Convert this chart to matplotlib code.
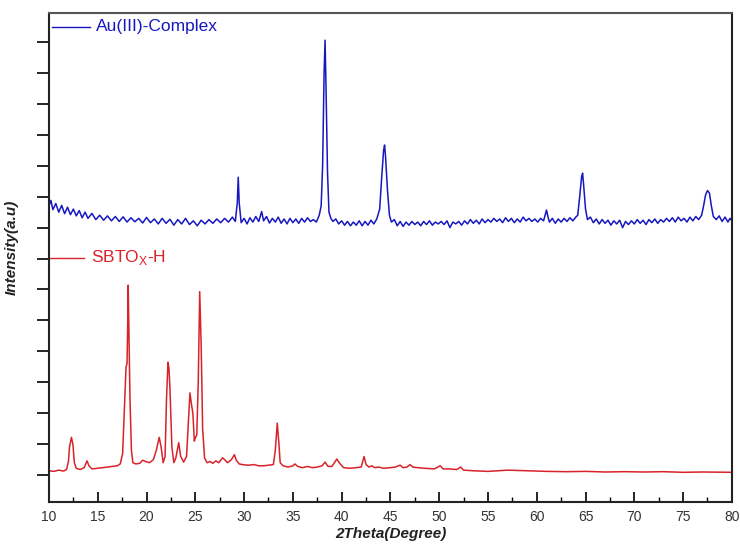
import matplotlib
matplotlib.use("Agg")
import matplotlib.pyplot as plt
from matplotlib.ticker import MultipleLocator, NullFormatter

# 2Theta (degree) and intensity (a.u.)
au_theta = [
    10.0, 10.2, 10.4, 10.7, 11.0, 11.3, 11.6, 11.9, 12.2, 12.5, 12.8, 13.1, 13.4, 13.7,
    14.0, 14.4, 14.8, 15.2, 15.6, 16.0, 16.4, 16.8, 17.2, 17.6, 18.0, 18.4, 18.8, 19.2,
    19.6, 20.0, 20.4, 20.8, 21.2, 21.6, 22.0, 22.4, 22.8, 23.2, 23.6, 24.0, 24.4, 24.8,
    25.2, 25.6, 26.0, 26.4, 26.8, 27.2, 27.6, 28.0, 28.4, 28.8, 29.1, 29.3, 29.4, 29.5,
    29.7, 30.0, 30.3, 30.6, 30.9, 31.2, 31.5, 31.8, 32.0, 32.3, 32.6, 32.9, 33.2, 33.5,
    33.8, 34.1, 34.4, 34.7, 35.0, 35.3, 35.6, 35.9, 36.2, 36.5, 36.8, 37.1, 37.4, 37.7,
    37.9, 38.05, 38.2, 38.3, 38.4, 38.55, 38.7, 38.9, 39.1, 39.4, 39.7, 40.0, 40.3, 40.6,
    40.9, 41.2, 41.5, 41.8, 42.1, 42.4, 42.7, 43.0, 43.3, 43.6, 43.9, 44.1, 44.3, 44.4,
    44.5, 44.7, 44.9, 45.1, 45.4, 45.7, 46.0, 46.3, 46.6, 46.9, 47.2, 47.5, 47.8, 48.1,
    48.4, 48.7, 49.0, 49.3, 49.6, 49.9, 50.2, 50.5, 50.8, 51.1, 51.4, 51.7, 52.0, 52.3,
    52.6, 52.9, 53.2, 53.5, 53.8, 54.1, 54.4, 54.7, 55.0, 55.3, 55.6, 55.9, 56.2, 56.5,
    56.8, 57.1, 57.4, 57.7, 58.0, 58.3, 58.6, 58.9, 59.2, 59.5, 59.8, 60.1, 60.4, 60.7,
    60.9, 61.0, 61.15, 61.3, 61.6, 61.9, 62.2, 62.5, 62.8, 63.1, 63.4, 63.7, 64.0, 64.2,
    64.4, 64.6, 64.7, 64.8, 65.0, 65.2, 65.5, 65.8, 66.1, 66.4, 66.7, 67.0, 67.3, 67.6,
    67.9, 68.2, 68.5, 68.8, 69.1, 69.4, 69.7, 70.0, 70.3, 70.6, 70.9, 71.2, 71.5, 71.8,
    72.1, 72.4, 72.7, 73.0, 73.3, 73.6, 73.9, 74.2, 74.5, 74.8, 75.1, 75.4, 75.7, 76.0,
    76.3, 76.6, 76.9, 77.1, 77.3, 77.5, 77.7, 77.9, 78.1, 78.4, 78.7, 79.0, 79.3, 79.6,
    79.8, 80.0,
]
au_intensity = [
    870, 888, 858, 878, 850, 872, 845, 866, 842, 860, 838, 855, 832, 850,
    830, 846, 826, 840, 824, 838, 822, 836, 820, 835, 818, 832, 819, 830,
    815, 833, 816, 828, 812, 830, 814, 827, 808, 826, 812, 830, 810, 822,
    806, 824, 812, 826, 814, 828, 816, 830, 818, 834, 820, 880, 963, 880,
    816, 830, 812, 832, 818, 836, 820, 852, 822, 836, 815, 830, 818, 834,
    814, 828, 812, 830, 816, 828, 814, 830, 818, 832, 820, 826, 818, 840,
    870, 1000, 1300, 1406, 1250, 980, 850, 830, 820, 828, 812, 822, 808, 820,
    806, 818, 808, 822, 806, 820, 808, 824, 812, 828, 860, 960, 1050, 1067,
    1030, 920, 840, 818, 826, 806, 820, 804, 818, 808, 820, 810, 818, 806,
    820, 810, 822, 808, 818, 812, 820, 810, 822, 800, 818, 812, 820, 808,
    822, 812, 826, 814, 824, 812, 828, 816, 826, 818, 830, 820, 828, 816,
    832, 820, 830, 816, 828, 818, 834, 822, 830, 820, 828, 818, 830, 822,
    845, 857, 835, 818, 830, 814, 828, 818, 830, 820, 832, 822, 834, 840,
    900, 965, 976, 940, 860, 826, 834, 816, 828, 812, 826, 814, 824, 808,
    822, 812, 824, 800, 820, 810, 822, 812, 826, 814, 824, 810, 826, 816,
    828, 814, 826, 818, 830, 820, 832, 818, 834, 822, 830, 818, 834, 822,
    836, 826, 840, 870, 905, 920, 912, 870, 836, 826, 838, 820, 834, 818,
    830, 822,
]

sbto_theta = [
    10.0, 10.5, 11.0, 11.5, 11.8, 12.0, 12.1, 12.3, 12.45, 12.6, 12.8, 13.2, 13.6, 13.9,
    14.1, 14.4, 15.0, 15.5, 16.0, 16.5, 17.0, 17.3, 17.55, 17.75, 17.9, 18.0, 18.05, 18.12,
    18.2, 18.3, 18.45, 18.6, 18.9, 19.3, 19.6, 19.9, 20.3, 20.7, 21.0, 21.3, 21.5, 21.7,
    21.9, 22.05, 22.2, 22.3, 22.4, 22.6, 22.8, 23.0, 23.3, 23.5, 23.8, 24.1, 24.3, 24.45,
    24.6, 24.75, 24.9, 25.0, 25.15, 25.3, 25.45, 25.6, 25.75, 25.95, 26.2, 26.5, 26.8, 27.1,
    27.4, 27.8, 28.0, 28.3, 28.7, 29.0, 29.2, 29.5, 30.0, 30.5, 31.0, 31.5, 32.0, 32.5,
    33.0, 33.2, 33.4, 33.55, 33.7, 34.0, 34.5, 35.0, 35.2, 35.5, 36.0, 36.5, 37.0, 37.5,
    38.0, 38.3, 38.6, 39.0, 39.3, 39.5, 39.8, 40.2, 40.8, 41.5, 42.0, 42.3, 42.5, 42.8,
    43.1, 43.4, 43.8, 44.3, 45.0, 45.5, 46.0, 46.3, 46.7, 47.0, 47.3, 47.8, 48.5, 49.5,
    50.1, 50.4, 51.0, 51.8, 52.2, 52.5, 53.5, 55.0, 57.0, 59.0, 61.0, 63.0, 65.0, 67.0,
    69.0, 71.0, 73.0, 75.0, 77.0, 80.0,
]
sbto_intensity = [
    14, 12, 16, 13, 18, 45, 90, 122, 100, 40, 22, 18, 24, 46,
    30, 20, 22, 24, 26, 28, 30, 36, 70, 230, 350, 360, 450, 614,
    450, 250, 80, 40, 36, 38, 48, 44, 40, 50, 80, 122, 90, 40,
    60, 250, 365, 345, 280, 90, 40, 55, 105, 60, 42, 60, 180, 266,
    230, 200, 110, 120, 130, 300, 593, 420, 150, 55, 40, 44, 38, 46,
    40, 56, 50, 40, 50, 66, 48, 36, 33, 32, 34, 30, 30, 32,
    34, 80, 168, 110, 40, 30, 26, 30, 36, 28, 24, 28, 24, 26,
    30, 42, 28, 28, 42, 52, 38, 24, 22, 24, 26, 60, 34, 26,
    30, 24, 26, 22, 24, 26, 32, 24, 26, 34, 26, 24, 22, 20,
    30, 20, 20, 18, 26, 16, 14, 12, 16, 14, 12, 11, 12, 10,
    11, 10, 11, 9, 10, 9,
]

x_ticks = [10, 15, 20, 25, 30, 35, 40, 45, 50, 55, 60, 65, 70, 75, 80]

plt.rcParams["font.family"] = ["Liberation Sans", "DejaVu Sans"]

fig = plt.figure(figsize=(7.4, 5.45), dpi=100)
ax = fig.add_axes([0.0662, 0.0789, 0.9228, 0.8973])

blue = "#1717c0"
red = "#d8232a"

ax.plot(au_theta, au_intensity, color=blue, lw=1.1)
ax.plot(sbto_theta, sbto_intensity, color=red, lw=1.1)

ax.set_xlim(10, 80)
ax.set_ylim(-87, 1494)

ax.set_xticks(x_ticks)
ax.xaxis.set_minor_locator(MultipleLocator(2.5))
ax.tick_params(axis="x", which="major", direction="in", length=7, width=1.2,
               labelsize=10, labelcolor="#333333", pad=6)
ax.tick_params(axis="x", which="minor", direction="in", length=3.5, width=1.0)

ax.yaxis.set_major_locator(MultipleLocator(100))
ax.yaxis.set_major_formatter(NullFormatter())
ax.tick_params(axis="y", which="major", direction="out", length=9, width=1.2)

for side in ["left", "right", "top", "bottom"]:
    ax.spines[side].set_linewidth(1.5)
    ax.spines[side].set_color("#222222")
ax.spines["top"].set_color("#555555")

ax.set_xlabel("2Theta(Degree)", fontsize=11, fontweight="bold", style="italic",
              color="#222222", labelpad=2)
ax.set_ylabel("Intensity(a.u)", fontsize=11, fontweight="bold", style="italic",
              color="#222222")
ax.yaxis.set_label_coords(-0.045, 0.52)

# legend-like labels inside the axes
ax.plot([10.3, 14.2], [1450, 1450], color=blue, lw=1.0)
ax.text(14.8, 1450, "Au(III)-Complex", color=blue, fontsize=12.5, va="center")
ax.plot([10.0, 13.6], [703, 703], color=red, lw=1.0)
ax.text(14.3, 703, "SBTO$_\\mathregular{X}$-H", color=red, fontsize=12.5, va="center")

fig.savefig("out.png", dpi=100)
